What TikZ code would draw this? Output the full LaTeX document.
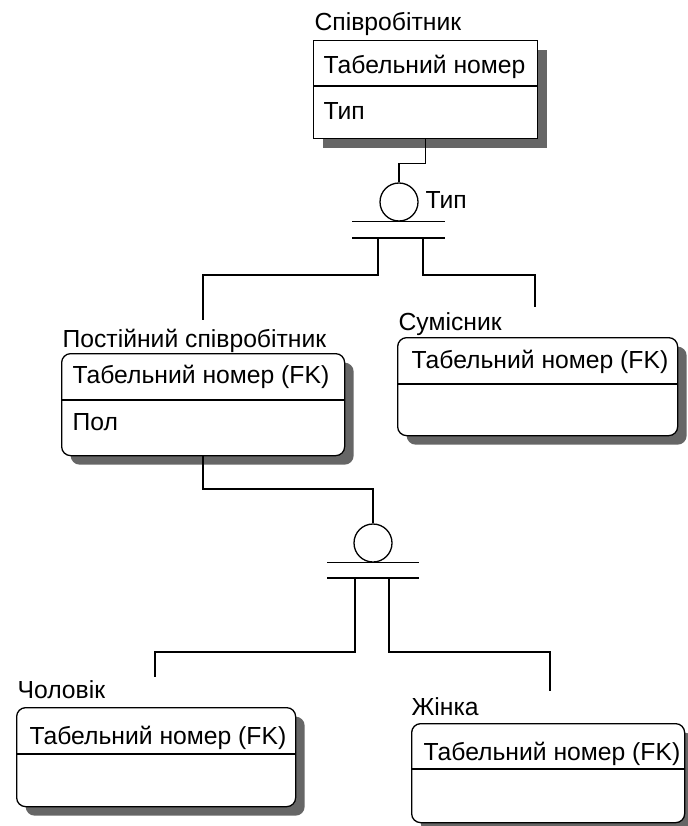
\documentclass[tikz,border=0pt]{standalone}
\usepackage{fontspec}
\setmainfont{Liberation Sans}
\usetikzlibrary{shadows}
\begin{document}
\begin{tikzpicture}[x=1pt,y=-1pt,line width=1.3pt,
  txt/.style={anchor=base west,inner sep=0pt,font=\fontsize{24.7}{28}\selectfont},
  entity/.style={draw,fill=white,inner sep=0pt,anchor=north west,
    drop shadow={shadow xshift=9pt,shadow yshift=-9pt,fill=black!60,opacity=1}},
  indep/.style={entity,sharp corners},
  dep/.style={entity,rounded corners=9pt},
  hub/.style={draw,circle,minimum size=38pt,inner sep=0pt},
  conn/.style={draw}]
\useasboundingbox (0,0) rectangle (687,826);

% --- Співробітник (independent entity)
\node[indep,minimum width=224,minimum height=98] (emp) at (313,40) {};
\draw (313,86) -- (537,86);
\node[txt] (empT) at (314,31) {Співробітник};
\node[txt] (empK) at (323,74) {Табельний номер};
\node[txt] (empA) at (323,120) {Тип};

% --- Постійний співробітник
\node[dep,minimum width=283,minimum height=102] (perm) at (61,353) {};
\draw (61,400) -- (344,400);
\node[txt] (permT) at (62,347) {Постійний співробітник};
\node[txt] (permK) at (72,383) {Табельний номер (FK)};
\node[txt] (permA) at (72,430) {Пол};

% --- Сумісник
\node[dep,minimum width=280,minimum height=98] (part) at (397,337) {};
\draw (397,384) -- (677,384);
\node[txt] (partT) at (398,330) {Сумісник};
\node[txt] (partK) at (411,368) {Табельний номер (FK)};

% --- Чоловік
\node[dep,minimum width=279,minimum height=99] (male) at (16,707) {};
\draw (16,754) -- (295,754);
\node[txt] (maleT) at (17,698) {Чоловік};
\node[txt] (maleK) at (29,744) {Табельний номер (FK)};

% --- Жінка
\node[dep,minimum width=273,minimum height=99] (fem) at (411,723) {};
\draw (411,769) -- (684,769);
\node[txt] (femT) at (411,715) {Жінка};
\node[txt] (femK) at (423,760) {Табельний номер (FK)};

% --- category by "Тип"
\node[hub] (c1) at (399,202) {};
\node[txt] (c1T) at (425,208) {Тип};
\coordinate (c1bar) at (399,238);
\draw ([xshift=-47pt]c1.south) -- ([xshift=46pt]c1.south);
\draw ([xshift=-47pt]c1bar) -- ([xshift=46pt]c1bar);
\draw[conn] (emp.south) -- ++(0,24) -| (c1.north);
\coordinate (permIn) at (203,320);
\coordinate (partIn) at (535,307);
\draw[conn] ([xshift=-21pt]c1bar) -- ++(0,37) -| (permIn);
\draw[conn] ([xshift=24pt]c1bar) -- ++(0,37) -| (partIn);

% --- category of Постійний співробітник
\node[hub] (c2) at (373,543) {};
\coordinate (c2bar) at (373,578);
\draw ([xshift=-46pt]c2.south) -- ([xshift=46pt]c2.south);
\draw ([xshift=-46pt]c2bar) -- ([xshift=46pt]c2bar);
\coordinate (permOut) at (203,455);
\draw[conn] (permOut) -- ++(0,34) -| (c2.north);
\coordinate (maleIn) at (155,677);
\coordinate (femIn) at (550,691);
\draw[conn] ([xshift=-18pt]c2bar) -- ++(0,74) -| (maleIn);
\draw[conn] ([xshift=16pt]c2bar) -- ++(0,74) -| (femIn);
\end{tikzpicture}
\end{document}
